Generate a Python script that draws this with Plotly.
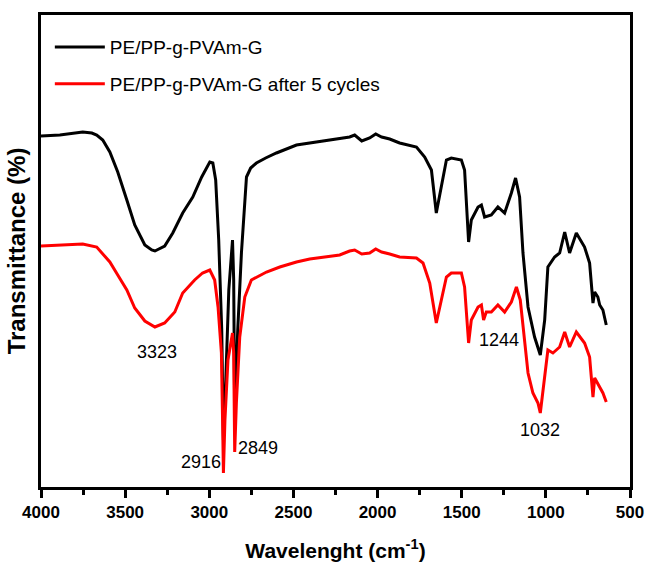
import plotly.graph_objects as go

# Wavenumber (cm-1) and transmittance (a.u.)
wn_black = [4000, 3888, 3752, 3698, 3669, 3633, 3591, 3544, 3490, 3443, 3383, 3342, 3323, 3265, 3217, 3158,
            3098, 3045, 2997, 2979, 2962, 2944, 2926, 2916, 2902, 2884, 2862, 2855, 2849, 2831, 2809, 2779,
            2754, 2720, 2665, 2601, 2482, 2403, 2314, 2225, 2166, 2136, 2094, 2047, 2011, 1976, 1928, 1869,
            1769, 1720, 1680, 1651, 1621, 1591, 1562, 1502, 1483, 1459, 1443, 1403, 1383, 1364, 1324, 1285,
            1245, 1205, 1180, 1156, 1136, 1106, 1067, 1033, 1007, 988, 948, 918, 888, 859, 819, 770, 740,
            720, 710, 691, 680, 661, 641]
t_black = [351, 352, 355, 354, 352, 347, 335, 315, 287, 262, 242, 237, 236, 241, 254, 274,
           290, 310, 325, 324, 307, 247, 157, 47, 107, 197, 247, 207, 72, 157, 234, 310,
           319, 324, 329, 334, 342, 344, 346, 348, 350, 352, 346, 349, 353, 350, 348, 344,
           340, 330, 317, 274, 300, 327, 329, 327, 317, 245, 267, 280, 282, 270, 272, 280,
           274, 294, 309, 290, 234, 180, 150, 132, 167, 220, 230, 234, 255, 234, 254, 240, 224,
           184, 195, 190, 182, 177, 162]

wn_red = [4000, 3752, 3669, 3591, 3544, 3490, 3443, 3383, 3323, 3265, 3205, 3158, 3087, 3040, 2997, 2968,
          2948, 2928, 2921, 2916, 2907, 2889, 2862, 2855, 2849, 2839, 2819, 2789, 2750, 2660, 2581, 2482,
          2403, 2314, 2225, 2166, 2136, 2094, 2047, 2011, 1976, 1928, 1869, 1769, 1730, 1690, 1651, 1621,
          1591, 1562, 1502, 1483, 1459, 1443, 1403, 1383, 1370, 1354, 1324, 1285, 1245, 1205, 1175, 1152,
          1132, 1106, 1077, 1047, 1033, 1013, 988, 958, 918, 888, 859, 819, 770, 740, 720, 710, 680, 661, 641]
t_red = [241, 243, 240, 225, 212, 197, 179, 166, 160, 164, 175, 194, 207, 214, 217, 207,
         180, 134, 67, 14, 67, 127, 154, 134, 35, 84, 150, 190, 207, 215, 220, 225,
         228, 230, 232, 236, 237, 233, 234, 238, 235, 233, 230, 229, 224, 204, 164, 187,
         210, 214, 214, 200, 144, 167, 180, 182, 167, 175, 175, 182, 175, 185, 200, 187,
         154, 114, 94, 84, 74, 104, 137, 134, 140, 155, 140, 155, 144, 130, 90, 109, 100, 94, 85]

series_names = ["PE/PP-g-PVAm-G", "PE/PP-g-PVAm-G after 5 cycles"]

peak_labels = ["3323", "2916", "2849", "1244", "1032"]
peak_label_x = [3310, 3051, 2712, 1280, 1037]
peak_label_y = [135, 25, 39, 147, 57]

x_ticks = [4000, 3500, 3000, 2500, 2000, 1500, 1000, 500]

FONT = "Liberation Sans, Arial, sans-serif"

fig = go.Figure()
fig.add_trace(go.Scatter(x=wn_black, y=t_black, mode="lines", name=series_names[0],
                         legendgroup="g1", line=dict(color="black", width=3)))
fig.add_trace(go.Scatter(x=wn_red, y=t_red, mode="lines", name=series_names[1],
                         legendgroup="g2", line=dict(color="#ff0000", width=3)))

for txt, ax, ay in zip(peak_labels, peak_label_x, peak_label_y):
    fig.add_annotation(x=ax, y=ay, text=txt, showarrow=False,
                       font=dict(family=FONT, size=18, color="black"))

fig.update_layout(
    width=646, height=566,
    margin=dict(l=41, r=16, t=15, b=79, autoexpand=False),
    paper_bgcolor="white", plot_bgcolor="white",
    font=dict(family=FONT, color="black"),
    showlegend=True,
    legend=dict(x=0.015, y=0.972, xanchor="left", yanchor="top",
                bgcolor="rgba(0,0,0,0)", font=dict(family=FONT, size=19),
                itemwidth=50, tracegroupgap=9),
)
fig.update_xaxes(
    range=[4000, 500], tickvals=x_ticks, ticklabeloverflow="allow", automargin=False,
    showline=True, linecolor="black", linewidth=3, mirror=True,
    ticks="outside", ticklen=8, tickwidth=3, tickcolor="black",
    minor=dict(dtick=250, ticks="outside", ticklen=5, tickwidth=3, tickcolor="black"),
    showgrid=False, zeroline=False,
    tickfont=dict(family=FONT, size=17, weight="bold"),
    title=dict(text="Wavelenght (cm<sup>-1</sup>)", font=dict(family=FONT, size=21, weight="bold"), standoff=22),
)
fig.update_yaxes(
    range=[0, 472], showticklabels=False, ticks="", automargin=False,
    showline=True, linecolor="black", linewidth=3, mirror=True,
    showgrid=False, zeroline=False,
    title=dict(text="Transmittance (%)", font=dict(family=FONT, size=24, weight="bold"), standoff=6),
)

fig.write_html("out.html")
